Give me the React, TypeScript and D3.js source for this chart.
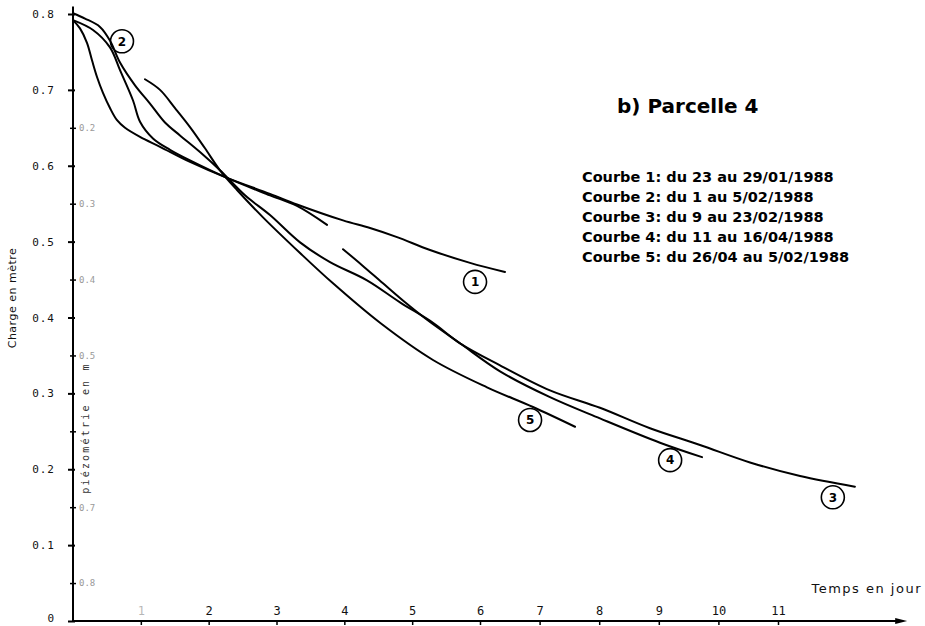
import React, { useEffect, useRef } from 'react'
import * as d3 from 'd3'

// time (days) / charge (m)
const courbe1: [number, number][] = [
  [0, 0.792], [0.103, 0.781], [0.206, 0.762], [0.28, 0.739], [0.354, 0.717],
  [0.442, 0.696], [0.545, 0.676], [0.649, 0.66], [0.767, 0.65], [0.988, 0.638],
  [1.283, 0.625], [1.725, 0.605], [2.27, 0.584], [2.904, 0.563], [3.302, 0.549],
  [3.981, 0.528], [4.379, 0.518], [4.777, 0.506], [5.263, 0.489], [5.853, 0.472],
  [6.419, 0.46],
]
const courbe2: [number, number][] = [
  [0, 0.792], [0.295, 0.779], [0.545, 0.756], [0.693, 0.726], [0.885, 0.686],
  [0.988, 0.658], [1.179, 0.636], [1.43, 0.621], [1.725, 0.607], [2.27, 0.584],
  [2.904, 0.561], [3.302, 0.547], [3.745, 0.522],
]
const courbe3: [number, number][] = [
  [0, 0.801], [0.177, 0.794], [0.398, 0.783], [0.545, 0.765], [0.693, 0.736],
  [0.914, 0.706], [1.135, 0.682], [1.356, 0.657], [1.577, 0.64], [1.872, 0.618],
  [2.167, 0.594], [2.536, 0.561], [2.904, 0.535], [3.347, 0.499], [3.789, 0.473],
  [4.334, 0.449], [4.821, 0.42], [5.307, 0.393], [5.705, 0.366], [6.336, 0.337],
  [7.174, 0.304], [8.013, 0.281], [8.852, 0.254], [9.691, 0.232], [10.53, 0.209],
  [11.37, 0.191], [12.29, 0.177],
]
const courbe4: [number, number][] = [
  [3.981, 0.49], [4.261, 0.469], [4.57, 0.445], [4.895, 0.42], [5.219, 0.397],
  [5.705, 0.366], [6.336, 0.329], [7.174, 0.295], [8.013, 0.267], [9.02, 0.235],
  [9.725, 0.216],
]
const courbe5: [number, number][] = [
  [1.061, 0.714], [1.283, 0.7], [1.504, 0.676], [1.725, 0.651], [1.946, 0.623],
  [2.167, 0.594], [2.418, 0.568], [2.801, 0.532], [3.347, 0.485], [3.833, 0.445],
  [4.526, 0.393], [5.307, 0.344], [6.117, 0.308], [6.889, 0.282], [7.594, 0.256],
]
const courbes = [courbe1, courbe2, courbe3, courbe4, courbe5]

// circled curve numbers
const labelIds = ['1', '2', '3', '4', '5']
const labelT = [5.927, 0.722, 11.92, 9.19, 6.84]
const labelH = [0.447, 0.764, 0.163, 0.212, 0.265]

const xTicks = [1, 2, 3, 4, 5, 6, 7, 8, 9, 10, 11]
const yTicks = [0, 0.1, 0.2, 0.3, 0.4, 0.5, 0.6, 0.7, 0.8]
const yTickLabels = ['0', '0.1', '0.2', '0.3', '0.4', '0.5', '0.6', '0.7', '0.8']
// secondary piezometry graduation (faint)
const pzTicks = [0.05, 0.15, 0.25, 0.35, 0.45, 0.55, 0.65]
const pzLabels = ['0.8', '0.7', '', '0.5', '0.4', '0.3', '0.2']

const legend = [
  'Courbe 1: du 23 au 29/01/1988',
  'Courbe 2: du 1 au 5/02/1988',
  'Courbe 3: du 9 au 23/02/1988',
  'Courbe 4: du 11 au 16/04/1988',
  'Courbe 5: du 26/04 au 5/02/1988',
]

export default function App(): React.ReactElement {
  const svgRef = useRef<SVGSVGElement>(null)

  useEffect(() => {
    document.body.style.margin = '0'
    const width = 925
    const height = 626

    // hand drawn axis: spacing gets tighter after day 6
    const x = d3.scaleLinear().domain([0, 6, 11]).range([73, 480, 778])
    const y = d3.scaleLinear().domain([0, 0.8]).range([621, 14])

    const svg = d3.select(svgRef.current)
    svg.selectAll('*').remove()
    svg.attr('viewBox', `0 0 ${width} ${height}`)

    const mono = '"DejaVu Sans Mono", monospace'
    const sans = '"DejaVu Sans", sans-serif'

    // y axis
    const yAxis = svg
      .append('g')
      .attr('transform', `translate(${x(0)},0)`)
      .call(
        d3
          .axisLeft(y)
          .tickValues(yTicks)
          .tickSize(5)
          .tickPadding(13)
          .tickFormat((_, i) => yTickLabels[i])
      )
    yAxis.select('.domain').remove()
    yAxis
      .selectAll('text')
      .attr('font-family', mono)
      .attr('font-size', 11)
      .attr('letter-spacing', 1)
      .attr('fill', '#111')
      .attr('dy', (d) => (d === 0 ? '0.05em' : '0.32em'))
    yAxis.selectAll('line').attr('stroke-width', 2).attr('x2', -5).attr('x1', 2)

    const pzAxis = svg
      .append('g')
      .attr('transform', `translate(${x(0)},0)`)
      .call(
        d3
          .axisRight(y)
          .tickValues(pzTicks)
          .tickSize(3)
          .tickPadding(3)
          .tickFormat((_, i) => pzLabels[i])
      )
    pzAxis.select('.domain').remove()
    pzAxis.selectAll('line').attr('x1', -3).attr('stroke-width', 1.5)
    pzAxis
      .selectAll('text')
      .attr('font-family', mono)
      .attr('font-size', 9)
      .attr('fill', '#999')

    svg
      .append('line')
      .attr('x1', x(0))
      .attr('x2', x(0))
      .attr('y1', y(0))
      .attr('y2', y(0.81))
      .attr('stroke', '#000')
      .attr('stroke-width', 2)

    // x axis
    const xEnd = 13.1
    const xAxis = svg
      .append('g')
      .attr('transform', `translate(0,${y(0)})`)
      .call(d3.axisBottom(x).tickValues(xTicks).tickSize(4).tickFormat(d3.format('d')))
    xAxis.select('.domain').remove()
    xAxis.selectAll('line').attr('stroke-width', 1.5)
    xAxis
      .selectAll('text')
      .attr('y', -6)
      .attr('dy', 0)
      .attr('font-family', mono)
      .attr('font-size', 12)
      .attr('fill', '#111')
      .attr('opacity', (d) => (d === 1 ? 0.3 : 1))

    svg
      .append('line')
      .attr('x1', x(0))
      .attr('x2', x(xEnd))
      .attr('y1', y(0))
      .attr('y2', y(0))
      .attr('stroke', '#000')
      .attr('stroke-width', 2)
    svg
      .append('path')
      .attr(
        'd',
        `M${x(xEnd) + 4},${y(0)} L${x(xEnd) - 8},${y(0) - 3} L${x(xEnd) - 8},${y(0) + 3} Z`
      )
      .attr('fill', '#000')

    // curves
    const line = d3
      .line<[number, number]>()
      .x((d) => x(d[0]))
      .y((d) => y(d[1]))
      .curve(d3.curveCatmullRom.alpha(0.5))

    svg
      .append('g')
      .selectAll('path')
      .data(courbes)
      .join('path')
      .attr('d', (d) => line(d))
      .attr('fill', 'none')
      .attr('stroke', '#000')
      .attr('stroke-width', 2)
      .attr('stroke-linecap', 'round')

    // circled numbers
    const lab = svg
      .append('g')
      .selectAll('g')
      .data(labelIds)
      .join('g')
      .attr('transform', (_, i) => `translate(${x(labelT[i])},${y(labelH[i])})`)
    lab
      .append('circle')
      .attr('r', 11.5)
      .attr('fill', 'none')
      .attr('stroke', '#000')
      .attr('stroke-width', 1.6)
    lab
      .append('text')
      .attr('text-anchor', 'middle')
      .attr('dy', '0.36em')
      .attr('font-family', sans)
      .attr('font-weight', 'bold')
      .attr('font-size', 12)
      .text((d) => d)

    // axis titles
    svg
      .append('text')
      .attr('transform', 'translate(16,298) rotate(-90)')
      .attr('text-anchor', 'middle')
      .attr('font-family', sans)
      .attr('font-size', 11)
      .attr('letter-spacing', 0.5)
      .attr('fill', '#111')
      .text('Charge en mètre')
    svg
      .append('text')
      .attr('transform', 'translate(89,428) rotate(-90)')
      .attr('text-anchor', 'middle')
      .attr('font-family', mono)
      .attr('font-size', 10)
      .attr('letter-spacing', 2.2)
      .attr('fill', '#333')
      .text('piézométrie en m')
    svg
      .append('text')
      .attr('x', 922)
      .attr('y', 593)
      .attr('text-anchor', 'end')
      .attr('font-family', sans)
      .attr('font-size', 13)
      .attr('letter-spacing', 1.5)
      .attr('fill', '#111')
      .text('Temps en jour')

    // title + legend
    svg
      .append('text')
      .attr('x', 617)
      .attr('y', 113)
      .attr('font-family', sans)
      .attr('font-weight', 'bold')
      .attr('font-size', 20)
      .text('b) Parcelle 4')
    svg
      .append('g')
      .selectAll('text')
      .data(legend)
      .join('text')
      .attr('x', 582)
      .attr('y', (_, i) => 182 + i * 20)
      .attr('font-family', sans)
      .attr('font-weight', 'bold')
      .attr('font-size', 14.5)
      .text((d) => d)
  }, [])

  return <svg ref={svgRef} width={925} height={626} style={{ display: 'block', background: '#fff' }} />
}
